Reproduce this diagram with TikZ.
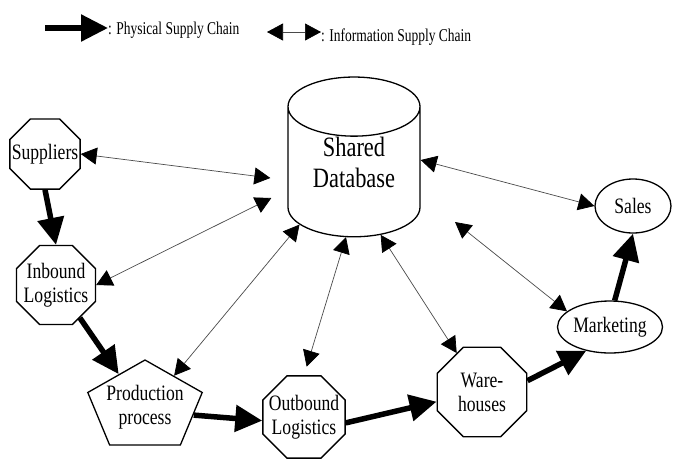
\documentclass[tikz,border=0pt]{standalone}
\usepackage{fontspec}
\setmainfont{Liberation Serif}[FakeStretch=0.8]
\newfontfamily\pentfont{Liberation Serif}[FakeStretch=0.625]
\newfontfamily\legendfont{Liberation Serif}[FakeStretch=0.75]
\usepackage{tikz}
\usetikzlibrary{
  arrows.meta,
  shapes.geometric,
  calc
}
\definecolor{scLine}{HTML}{000000}
\definecolor{scInfo}{HTML}{4A4A4A}
\tikzset{
  scnode/.style={
    draw=scLine, line width=1.3pt, fill=white, align=center, inner sep=0pt,
    font=\fontsize{22}{24}\selectfont
  },
  octa/.style={scnode, regular polygon, regular polygon sides=8, inner sep=-30pt,
    minimum size=#1},
  oval/.style={scnode, ellipse},
  pent/.style={scnode, regular polygon, regular polygon sides=5, inner sep=-20pt,
    minimum size=94pt, font=\fontsize{22}{24}\pentfont},
  dbase/.style={scnode, cylinder, shape border rotate=90, aspect=0.72,
    minimum width=132pt, minimum height=153pt, font=\fontsize{28}{31}\selectfont},
  physflow/.style={-{Triangle[length=27pt,width=26pt]}, line width=5.5pt},
  infoflow/.style={{Triangle[length=16pt,width=17pt,color=black]}-{Triangle[length=16pt,width=17pt,color=black]},
    line width=0.7pt, draw=scInfo},
  legendtxt/.style={font=\fontsize{18}{20}\legendfont, inner sep=0pt, anchor=base west}
}

\begin{document}
\begin{tikzpicture}[x=1pt, y=-1pt]
  \useasboundingbox (0,0) rectangle (675,459);
  % legend
  \coordinate (lgphys) at (45,28);
  \node[legendtxt] (lgphystxt) at (108,34) {: Physical Supply Chain};
  \draw[physflow] (lgphys) -- (lgphys -| lgphystxt.west);
  \coordinate (lginfo) at (267,32);
  \node[legendtxt] (lginfotxt) at (321,41) {: Information Supply Chain};
  \draw[infoflow] (lginfo) -- (lginfo -| lginfotxt.west);

  \node[dbase] (db) at (354,172) {Shared\\Database\rule[-20pt]{0pt}{20pt}};
  \node[octa=76pt] (sup) at (45,154) {Suppliers};
  \node[octa=85.5pt] (inb) at (56,285) {Inbound\\Logistics};
  \node[octa=89pt] (outb) at (304,417) {Outbound\\Logistics};
  \node[octa=97pt] (ware) at (482,392) {Ware-\\houses};
  \node[oval, minimum width=105pt, minimum height=52pt] (mkt) at (610,327) {Marketing};
  \node[oval, minimum width=76pt, minimum height=54pt] (sales) at (633,206) {Sales};
  \begin{scope}[shift={(145,407)}, xscale=1.28]
    \node[pent, transform shape] (prod) at (0,0) {Production\\process};
  \end{scope}

  \draw[physflow] (sup.south) -- (inb.north);
  \draw[physflow] (inb.-54) -- (prod.122);
  \draw[physflow] (prod.-12) -- (outb.185);
  \draw[physflow] (outb.-8) -- (ware.192);
  \draw[physflow] (ware.14) -- (mkt.225);
  \draw[physflow] (mkt.80) -- (sales.south);

  \draw[infoflow] (sup.east) -- ([shift={(-17,6)}]db.west);
  \draw[infoflow] (inb.east) -- ([shift={(-16,26)}]db.west);
  \draw[infoflow] (prod.54) -- (db.224);
  \draw[infoflow, shorten <=9pt] (outb.north) -- (db.263);
  \draw[infoflow] (ware.123) -- (db.293);
  \draw[infoflow] (sales.west) -- ([yshift=12pt]db.east);
  \coordinate (dbgap) at (455,222);
  \draw[infoflow] (mkt.160) -- (dbgap);
\end{tikzpicture}
\end{document}
